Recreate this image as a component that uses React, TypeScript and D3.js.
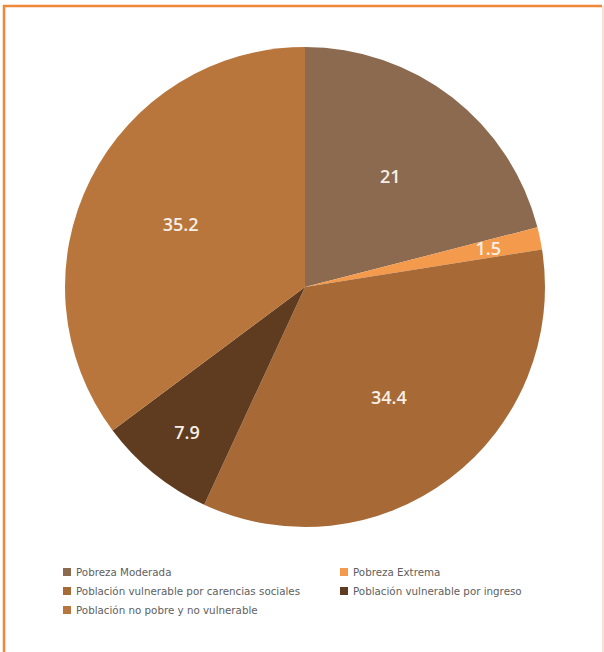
import React, { useEffect, useRef } from 'react';
import * as d3 from 'd3';

const categories = [
  'Pobreza Moderada',
  'Pobreza Extrema',
  'Población vulnerable por carencias sociales',
  'Población vulnerable por ingreso',
  'Población no pobre y no vulnerable',
];
const values = [21, 1.5, 34.4, 7.9, 35.2];
const colors = ['#8b6a4f', '#f39a4c', '#a76a36', '#5f3b1f', '#b8763c'];

const WIDTH = 604;
const HEIGHT = 652;

const App: React.FC = () => {
  const svgRef = useRef<SVGSVGElement>(null);

  useEffect(() => {
    if (!svgRef.current) return;
    const svg = d3.select(svgRef.current);
    svg.selectAll('*').remove();

    // Frame (orange on top/left, faint on the right, open at the bottom)
    svg
      .append('path')
      .attr('d', `M4,${HEIGHT + 10} L4,6 L602,6`)
      .attr('fill', 'none')
      .attr('stroke', '#f0883a')
      .attr('stroke-width', 2.5);
    svg
      .append('line')
      .attr('x1', 603)
      .attr('x2', 603)
      .attr('y1', 6)
      .attr('y2', HEIGHT)
      .attr('stroke', '#f3c3a6')
      .attr('stroke-width', 1);

    const cx = 305;
    const cy = 287;
    const radius = 240;

    const pie = d3
      .pie<number>()
      .sort(null)
      .value((d) => d);
    const arcs = pie(values);

    const arc = d3.arc<d3.PieArcDatum<number>>().innerRadius(0).outerRadius(radius);

    const g = svg.append('g').attr('transform', `translate(${cx},${cy})`);

    g.selectAll('.slice')
      .data(arcs)
      .join('path')
      .attr('class', 'slice')
      .attr('d', arc)
      .attr('fill', (_, i) => colors[i]);

    // Labels: small slices pushed toward the rim
    const labelArc = (d: d3.PieArcDatum<number>) => {
      const r = d.value < 10 ? radius * 0.78 : radius * 0.58;
      return d3.arc<d3.PieArcDatum<number>>().innerRadius(r).outerRadius(r).centroid(d);
    };

    g.selectAll('.label')
      .data(arcs)
      .join('text')
      .attr('class', 'label')
      .attr('transform', (d) => {
        const [x, y] = labelArc(d);
        return `translate(${x},${y})`;
      })
      .attr('text-anchor', 'middle')
      .attr('dy', '0.35em')
      .attr('fill', '#f7efe6')
      .attr('font-family', '"Open Sans", sans-serif')
      .attr('font-weight', 600)
      .attr('font-size', '18px')
      .text((d) => String(d.value));

    // Legend
    const colX = [63, 340];
    const rowY = [572, 591, 610];
    const legend = svg.append('g').attr('class', 'legend');
    const items = legend
      .selectAll('.item')
      .data(categories)
      .join('g')
      .attr('class', 'item')
      .attr('transform', (_, i) => `translate(${colX[i % 2]},${rowY[Math.floor(i / 2)]})`);

    items
      .append('rect')
      .attr('x', 0)
      .attr('y', -4)
      .attr('width', 8)
      .attr('height', 8)
      .attr('fill', (_, i) => colors[i]);

    items
      .append('text')
      .attr('x', 13)
      .attr('y', 0)
      .attr('dy', '0.35em')
      .attr('fill', '#5e5e5e')
      .attr('font-family', '"DejaVu Sans", sans-serif')
      .attr('font-size', '10.3px')
      .text((d) => d);
  }, []);

  return (
    <svg
      ref={svgRef}
      width={WIDTH}
      height={HEIGHT}
      style={{ position: 'absolute', left: 0, top: 0, background: '#fff' }}
    />
  );
};

export default App;
